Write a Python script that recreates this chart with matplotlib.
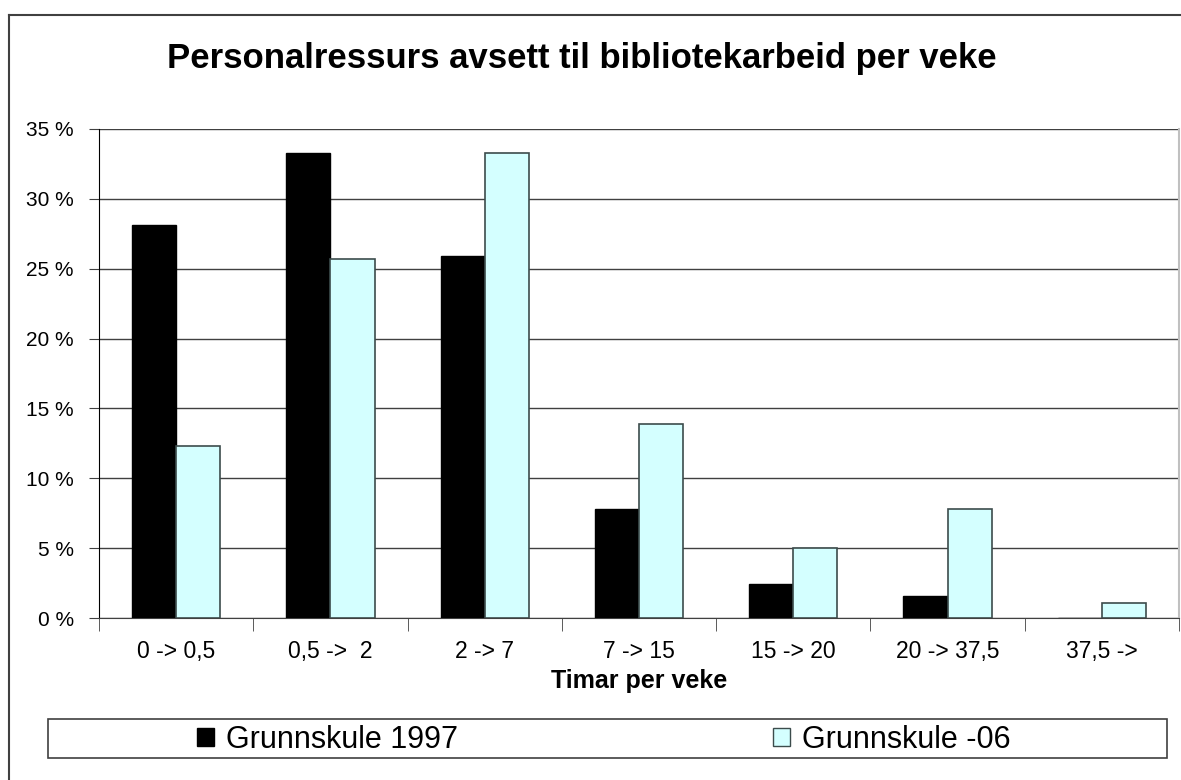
import matplotlib.pyplot as plt
import numpy as np
from matplotlib.patches import Rectangle, Patch
from matplotlib.lines import Line2D

plt.rcParams['font.family'] = ['Liberation Sans', 'DejaVu Sans']

# data
categories = ['0 -> 0,5', '0,5 ->  2', '2 -> 7', '7 -> 15', '15 -> 20', '20 -> 37,5', '37,5 ->']
grunnskule_1997 = [28.1, 33.3, 25.9, 7.8, 2.4, 1.6, 0.0]
grunnskule_06 = [12.3, 25.7, 33.3, 13.9, 5.0, 7.8, 1.1]
series_names = ['Grunnskule 1997', 'Grunnskule -06']
yticks = [0, 5, 10, 15, 20, 25, 30, 35]

W, H = 1181, 780
fig = plt.figure(figsize=(W / 100, H / 100), dpi=100)
fig.patch.set_facecolor('white')

# outer chart border (only left/top visible, rest is cropped)
fig.add_artist(Line2D([9.5 / W, 9.5 / W], [0, 1 - 15 / H], color='#404040', lw=1.5))
fig.add_artist(Line2D([9.5 / W, 1], [1 - 15 / H, 1 - 15 / H], color='#404040', lw=1.5))

ax = fig.add_axes([99 / W, (H - 618) / H, 1080 / W, 489 / H])

x = np.arange(len(categories))
w = 1 / 3.5
black_fill = '#000000'
cyan_fill = '#d4ffff'
ax.bar(x - w / 2, grunnskule_1997, w, color=black_fill, edgecolor='black', lw=1.0, zorder=3)
ax.bar(x + w / 2, grunnskule_06, w, color=cyan_fill, edgecolor='#3c4c4c', lw=1.2, zorder=3)

ax.set_xlim(-0.5, len(categories) - 0.5)
ax.set_ylim(0, 35)
ax.set_yticks(yticks)
ax.set_yticklabels([f'{v} %' for v in yticks])
ax.yaxis.grid(True, color='#404040', lw=1.0, zorder=0)
ax.set_axisbelow(True)

ax.set_xticks(x)
ax.set_xticklabels(categories)
ax.set_xticks(np.arange(-0.5, len(categories)), minor=True)
ax.tick_params(axis='x', which='major', length=0, pad=16, labelsize=16.5)
ax.tick_params(axis='x', which='minor', length=9, color='#404040', direction='out')
ax.tick_params(axis='y', length=7, pad=11, labelsize=15, color='#404040')

ax.spines['top'].set_visible(False)
ax.spines['right'].set_color('#c0c0c0')
ax.spines['right'].set_linewidth(1.5)
ax.spines['left'].set_color('black')
ax.spines['bottom'].set_color('#404040')

ax.set_xlabel('Timar per veke', fontsize=18, fontweight='bold', labelpad=4)

fig.text(582 / W, 1 - 68 / H, 'Personalressurs avsett til bibliotekarbeid per veke',
         ha='center', va='baseline', fontsize=25, fontweight='bold')

# legend box
fig.add_artist(Rectangle((47.7 / W, (H - 758) / H), (1167 - 47.7) / W, 39 / H,
                         transform=fig.transFigure, fill=False, edgecolor='#404040', lw=1.2))
handles = [Patch(facecolor=black_fill, edgecolor='black'),
           Patch(facecolor=cyan_fill, edgecolor='#3c4c4c')]
for h, name, xl in zip(handles, series_names, [197, 773]):
    fig.legend([h], [name], loc='center left', bbox_to_anchor=(xl / W, 1 - 740 / H),
               frameon=False, fontsize=22, borderpad=0, borderaxespad=0,
               handlelength=0.55, handleheight=0.5, handletextpad=0.4)

fig.savefig('out.png', dpi=100)
